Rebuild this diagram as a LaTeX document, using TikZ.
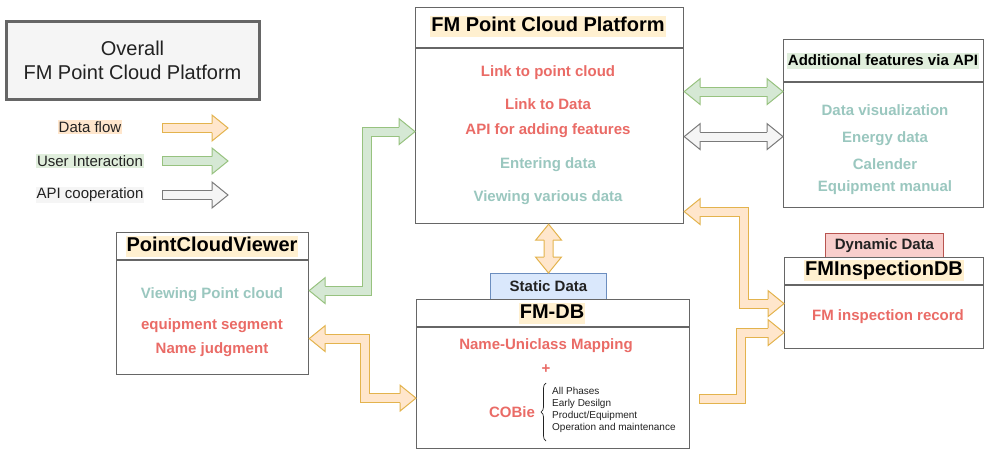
\documentclass[tikz,border=0pt]{standalone}
\usepackage{fontspec}
\setmainfont{Liberation Sans}
\usetikzlibrary{calc,decorations.pathreplacing}
\definecolor{bord}{HTML}{666666}
\definecolor{tred}{HTML}{EA6B66}
\definecolor{tteal}{HTML}{9AC7BF}
\definecolor{gfill}{HTML}{D5E8D4}
\definecolor{gline}{HTML}{97C27F}
\definecolor{ofill}{HTML}{FFE6CC}
\definecolor{oline}{HTML}{E3B34D}
\definecolor{afill}{HTML}{F5F5F5}
\definecolor{aline}{HTML}{7A7A7A}
\definecolor{thl}{HTML}{FFF0D0}
\definecolor{ghl}{HTML}{E0EEDC}
\definecolor{sfill}{HTML}{DAE8FC}
\definecolor{sline}{HTML}{6C8EBF}
\definecolor{dfill}{HTML}{F8CECC}
\definecolor{dline}{HTML}{B85450}
\definecolor{darktxt}{HTML}{222222}
\tikzset{
  ahead/.pic={\filldraw[#1, line width=1pt, line join=miter] (-16,4.5) -- (-16,13) -- (0,0) -- (-16,-13) -- (-16,-4.5);}
}
\begin{document}
\begin{tikzpicture}[x=1pt,y=-1pt,
  box/.style={draw=bord, line width=1.2pt, fill=white, anchor=north west, inner sep=0},
  hline/.style={draw=bord, line width=1.2pt},
  title/.style={font=\fontsize{20}{24}\selectfont\bfseries, text=black, fill=thl, inner xsep=1pt, inner ysep=1pt, text height=15pt, text depth=4pt},
  redt/.style={font=\fontsize{15}{18}\selectfont\bfseries, text=tred, inner sep=0, text height=10.7pt, text depth=0pt},
  tealt/.style={font=\fontsize{15}{18}\selectfont\bfseries, text=tteal, inner sep=0, text height=10.7pt, text depth=0pt},
  smallt/.style={font=\fontsize{10}{12}\selectfont, text=darktxt, anchor=west, inner sep=0, text height=7.2pt, text depth=0pt},
  legt/.style={font=\fontsize{15}{18}\selectfont, text=darktxt, inner xsep=1pt, inner ysep=1.5pt},
  gshaft/.style={draw=gline, line width=1pt, double=gfill, double distance=8pt, line join=miter},
  oshaft/.style={draw=oline, line width=1pt, double=ofill, double distance=8pt, line join=miter},
  ashaft/.style={draw=aline, line width=1pt, double=afill, double distance=8pt, line join=miter},
  ghead/.style={fill=gfill, draw=gline},
  ohead/.style={fill=ofill, draw=oline},
  agray/.style={fill=afill, draw=aline},
]
\useasboundingbox (0,0) rectangle (985,450);

% ---------- Overall box ----------
\node[draw=bord, line width=3pt, fill=afill, minimum width=253pt, minimum height=78pt,
      align=center, font=\fontsize{20}{24}\selectfont, text=darktxt] (overall) at (132.5,60)
      {Overall\\FM Point Cloud Platform};

% ---------- Legend ----------
\node[legt, fill=ofill] (leg1) at (90,127) {Data flow};
\node[legt, fill=ghl] (leg2) at (90,161) {User Interaction};
\node[legt, fill=afill!80!gray!30] (leg3) at (90,195) {API cooperation};
\coordinate (lg1) at (162,128);
\coordinate (lg2) at (162,161);
\coordinate (lg3) at (162,195);
\draw[oshaft] (lg1) -- ++(50,0);
\draw[oline, line width=1pt] ($(lg1)+(0,-4.5)$) -- ($(lg1)+(0,4.5)$);
\pic at ($(lg1)+(66,0)$) {ahead=ohead};
\draw[gshaft] (lg2) -- ++(50,0);
\draw[gline, line width=1pt] ($(lg2)+(0,-4.5)$) -- ($(lg2)+(0,4.5)$);
\pic at ($(lg2)+(66,0)$) {ahead=ghead};
\draw[ashaft] (lg3) -- ++(50,0);
\draw[aline, line width=1pt] ($(lg3)+(0,-4.5)$) -- ($(lg3)+(0,4.5)$);
\pic at ($(lg3)+(66,0)$) {ahead=agray};

% ---------- FM Point Cloud Platform ----------
\node[box, minimum width=268pt, minimum height=216pt] (fmp) at (415,7) {};
\draw[hline] ($(fmp.north west)+(0,41)$) -- ($(fmp.north east)+(0,41)$);
\node[title] (fmpt) at (548,26) {FM Point Cloud Platform};
\node[redt] (f1) at (548,71) {Link to point cloud};
\node[redt] (f2) at (548,104) {Link to Data};
\node[redt] (f3) at (548,129) {API for adding features};
\node[tealt] (f4) at (548,163) {Entering data};
\node[tealt] (f5) at (548,196) {Viewing various data};

% ---------- Additional features ----------
\node[box, minimum width=200pt, minimum height=168pt] (addf) at (783,39) {};
\draw[hline] ($(addf.north west)+(0,43)$) -- ($(addf.north east)+(0,43)$);
\node[font=\fontsize{15}{18}\selectfont\bfseries, text=black, fill=ghl, inner xsep=1pt, inner ysep=1pt, text height=11pt, text depth=3pt] (addft) at (883,61) {Additional features via API};
\node[tealt] (a1) at (885,110) {Data visualization};
\node[tealt] (a2) at (885,137) {Energy data};
\node[tealt] (a3) at (885,164) {Calender};
\node[tealt] (a4) at (885,186) {Equipment manual};

% ---------- PointCloudViewer ----------
\node[box, minimum width=192pt, minimum height=142pt] (viewer) at (116,232) {};
\draw[hline] ($(viewer.north west)+(0,28)$) -- ($(viewer.north east)+(0,28)$);
\node[title] (viewert) at (212,246) {PointCloudViewer};
\node[tealt] (v1) at (212,293) {Viewing Point cloud};
\node[redt] (v2) at (212,324) {equipment segment};
\node[redt] (v3) at (212,348) {Name judgment};

% ---------- FM-DB ----------
\node[draw=sline, fill=sfill, line width=1pt, minimum width=116pt, minimum height=26pt, anchor=north west, inner sep=0,
      font=\fontsize{15}{18}\selectfont\bfseries, text=darktxt] (static) at (490,273) {Static Data};
\node[box, minimum width=273pt, minimum height=149pt] (fmdb) at (416,299) {};
\draw[hline] ($(fmdb.north west)+(0,28)$) -- ($(fmdb.north east)+(0,28)$);
\node[title] (fmdbt) at (552,313) {FM-DB};
\node[redt] (d1) at (546,344) {Name-Uniclass Mapping};
\node[redt] (d2) at (546,368) {+};
\node[redt] (d3) at (512,412) {COBie};
\coordinate (brb) at (546,441);
\coordinate (brt) at (546,383);
\draw[darktxt, line width=0.7pt, decorate, decoration={brace, amplitude=5pt}] (brb) -- (brt);
\node[smallt] (l1) at (552,391) {All Phases};
\node[smallt] (l2) at (552,403) {Early Desilgn};
\node[smallt] (l3) at (552,415) {Product/Equipment};
\node[smallt] (l4) at (552,427) {Operation and maintenance};

% ---------- FMInspectionDB ----------
\node[draw=dline, fill=dfill, line width=1pt, minimum width=118pt, minimum height=24pt, anchor=north west, inner sep=0,
      font=\fontsize{15}{18}\selectfont\bfseries, text=darktxt] (dyn) at (825,233) {Dynamic Data};
\node[box, minimum width=199pt, minimum height=91pt] (fmi) at (784,257) {};
\draw[hline] ($(fmi.north west)+(0,28)$) -- ($(fmi.north east)+(0,28)$);
\node[title] (fmit) at (884,270) {FMInspectionDB};
\node[redt] (i1) at (888,315) {FM inspection record};

% ---------- Connectors ----------
% viewer <-> platform (user interaction)
\coordinate (g1a) at ($(viewer.east)+(0,-13)$);
\coordinate (g1b) at ($(fmp.west)+(0,16)$);
\draw[gshaft] ($(g1a)+(16,0)$) -| ($(g1b)+(-48.5,0)$) -- ($(g1b)+(-16,0)$);
\pic[rotate=180] at (g1a) {ahead=ghead};
\pic at (g1b) {ahead=ghead};

% viewer <-> FM-DB (data flow)
\coordinate (o1a) at ($(viewer.east)+(0,35)$);
\coordinate (o1b) at ($(fmdb.west)+(0,24)$);
\draw[oshaft] ($(o1a)+(16,0)$) -| ($(o1b)+(-51.5,0)$) -- ($(o1b)+(-16,0)$);
\pic[rotate=180] at (o1a) {ahead=ohead};
\pic at (o1b) {ahead=ohead};

% platform <-> FM-DB (data flow)
\coordinate (o2a) at ($(fmp.south)+(-1,0)$);
\coordinate (o2b) at (static.north);
\draw[oshaft] ($(o2a)+(0,16)$) -- ($(o2b)+(0,-16)$);
\pic[rotate=90] at (o2a) {ahead=ohead};
\pic[rotate=-90] at (o2b) {ahead=ohead};

% platform <-> additional features
\coordinate (g2a) at ($(fmp.east)+(0,-24)$);
\coordinate (g2b) at ($(addf.west)+(0,-32)$);
\draw[gshaft] ($(g2a)+(16,0)$) -- ($(g2b)+(-16,0)$);
\pic[rotate=180] at (g2a) {ahead=ghead};
\pic at (g2b) {ahead=ghead};

\coordinate (a1a) at ($(fmp.east)+(0,21)$);
\coordinate (a1b) at ($(addf.west)+(0,13)$);
\draw[ashaft] ($(a1a)+(16,0)$) -- ($(a1b)+(-16,0)$);
\pic[rotate=180] at (a1a) {ahead=agray};
\pic at (a1b) {ahead=agray};

% platform <-> FMInspectionDB
\coordinate (o3a) at ($(fmp.east)+(0,96)$);
\coordinate (o3b) at ($(fmi.west)+(0,0.5)$);
\draw[oshaft] ($(o3a)+(16,0)$) -| ($(o3b)+(-40.5,0)$) -- ($(o3b)+(-16,0)$);
\pic[rotate=180] at (o3a) {ahead=ohead};
\pic at (o3b) {ahead=ohead};

% FM-DB -> FMInspectionDB
\coordinate (o4a) at ($(fmdb.east)+(9,25)$);
\coordinate (o4b) at ($(fmi.west)+(0,29.5)$);
\draw[oshaft] (o4a) -| ($(o4b)+(-43.5,0)$) -- ($(o4b)+(-16,0)$);
\draw[oline, line width=1pt] ($(o4a)+(0,-4.5)$) -- ($(o4a)+(0,4.5)$);
\pic at (o4b) {ahead=ohead};
\end{tikzpicture}
\end{document}
